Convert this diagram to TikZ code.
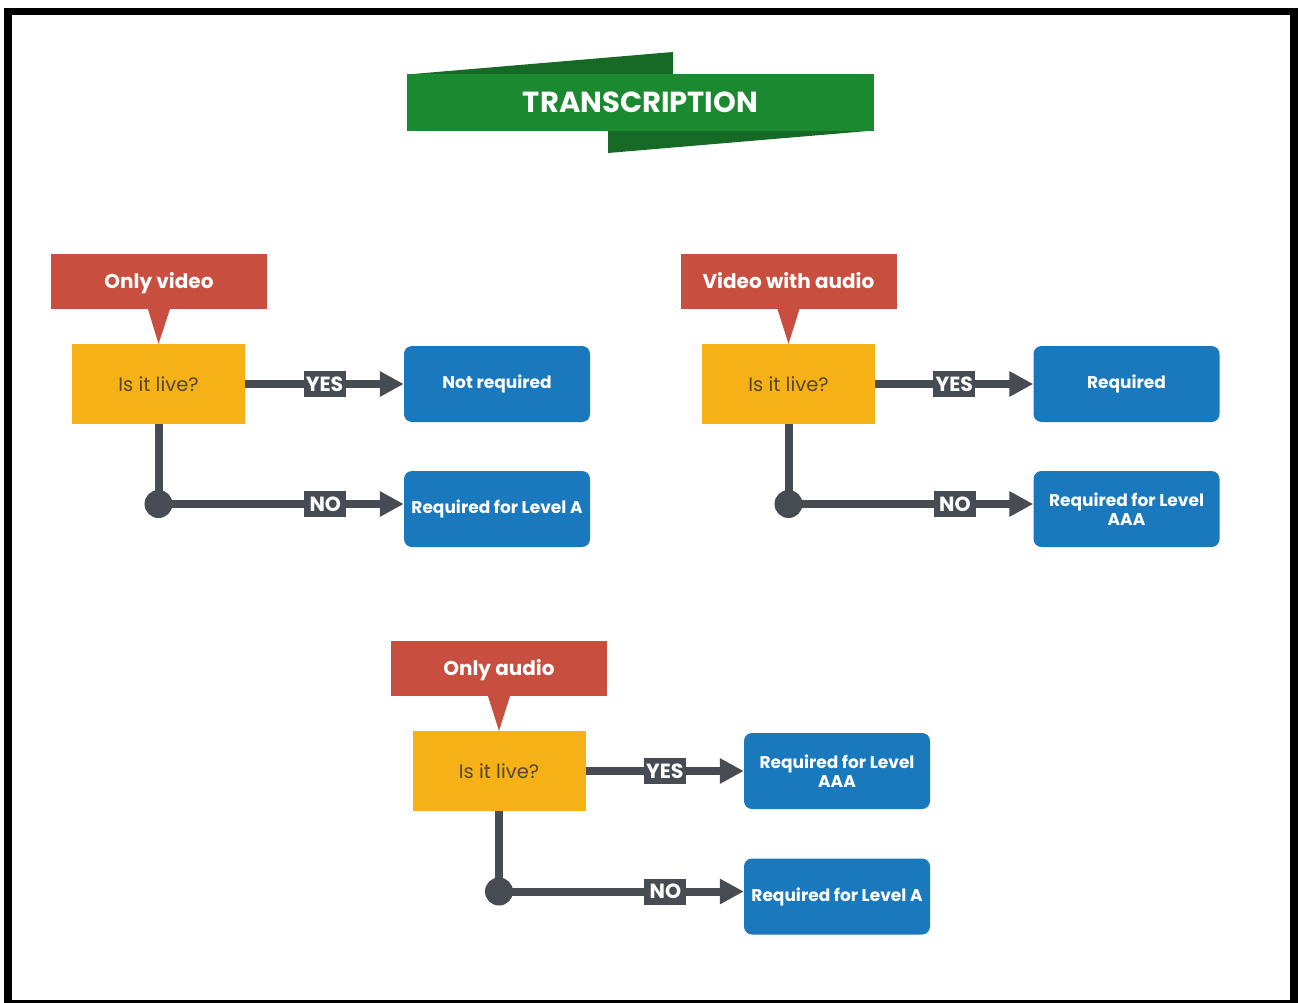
\documentclass[tikz,border=0pt]{standalone}
\usepackage{fontspec}
\setmainfont{Poppins}
\usetikzlibrary{arrows.meta,calc}

\definecolor{bannergreen}{HTML}{1B892F}
\definecolor{bannerdark}{HTML}{176A25}
\definecolor{tagred}{HTML}{C84F40}
\definecolor{askyellow}{HTML}{F6B117}
\definecolor{asktext}{HTML}{54462C}
\definecolor{answerblue}{HTML}{1A79BD}
\definecolor{wire}{HTML}{474C53}

\tikzset{
  tag/.style={fill=tagred, text=white, minimum width=216pt, minimum height=55pt,
    inner sep=0pt, text height=15pt, text depth=1pt,
    font=\fontsize{20}{24}\selectfont\bfseries},
  ask/.style={fill=askyellow, text=asktext, minimum width=173pt, minimum height=80pt,
    inner sep=0pt, font=\fontsize{19.5}{23}\selectfont},
  answer/.style={fill=answerblue, text=white, rounded corners=8pt, minimum width=186pt,
    minimum height=76pt, inner sep=0pt, align=center,
    font=\fontsize{17}{19.5}\selectfont\bfseries},
  flag/.style={fill=wire, text=white, minimum width=42pt, minimum height=26pt,
    inner sep=0pt, font=\fontsize{20.5}{23}\selectfont\bfseries},
  wireline/.style={draw=wire, line width=8pt,
    -{Triangle[length=24pt,width=24pt]}},
  joint/.style={fill=wire},
}

\newcommand\pointer[2]{%
  \fill[tagred] ($(#1.south)+(-11,0)$) -- (#2.north) -- ($(#1.south)+(11,0)$) -- cycle;}

\begin{document}
\begin{tikzpicture}[x=1pt,y=-1pt]
  \useasboundingbox (0,0) rectangle (1298,1003);
  % outer frame
  \fill[black] (4,8) rectangle (1298,1003);
  \fill[white] (12,15) rectangle (1290,1000);

  % title banner
  \fill[bannerdark] (407,74.5) -- (673,52) -- (673,75) -- cycle;
  \fill[bannerdark] (608,130) -- (608,153) -- (874,130.5) -- cycle;
  \node[fill=bannergreen, text=white, minimum width=467pt, minimum height=57pt,
    inner sep=0pt, font=\fontsize{29}{34}\selectfont\bfseries] (title) at (640.5,102.5) {TRANSCRIPTION};

  % only video
  \node[tag] (t1) at (159,281.5) {Only video};
  \node[ask] (q1) at (158.5,384) {Is it live?};
  \node[answer] (y1) at (497,384) {Not required};
  \node[answer] (n1) at (497,509) {Required for Level A};
  \coordinate (e1) at ($(n1.west)+(0,-5)$);
  \pointer{t1}{q1}
  \draw[wireline] (q1.east) -- node[flag] {YES} (y1.west);
  \draw[wireline] (q1.south) |- node[flag, pos=0.84] {NO} (e1);
  \fill[joint] (q1.south |- e1) circle (14);

  % video with audio
  \node[tag] (t2) at (788.5,281.5) {Video with audio};
  \node[ask] (q2) at (788.5,384) {Is it live?};
  \node[answer] (y2) at (1126.5,384) {Required};
  \node[answer] (n2) at (1126.5,509) {Required for Level\\AAA};
  \coordinate (e2) at ($(n2.west)+(0,-5)$);
  \pointer{t2}{q2}
  \draw[wireline] (q2.east) -- node[flag] {YES} (y2.west);
  \draw[wireline] (q2.south) |- node[flag, pos=0.84] {NO} (e2);
  \fill[joint] (q2.south |- e2) circle (14);

  % only audio
  \node[tag] (t3) at (499,668.5) {Only audio};
  \node[ask] (q3) at (499,771) {Is it live?};
  \node[answer] (y3) at (837,771) {Required for Level\\AAA};
  \node[answer] (n3) at (837,896.5) {Required for Level A};
  \coordinate (e3) at ($(n3.west)+(0,-5)$);
  \pointer{t3}{q3}
  \draw[wireline] (q3.east) -- node[flag] {YES} (y3.west);
  \draw[wireline] (q3.south) |- node[flag, pos=0.84] {NO} (e3);
  \fill[joint] (q3.south |- e3) circle (14);
\end{tikzpicture}
\end{document}
